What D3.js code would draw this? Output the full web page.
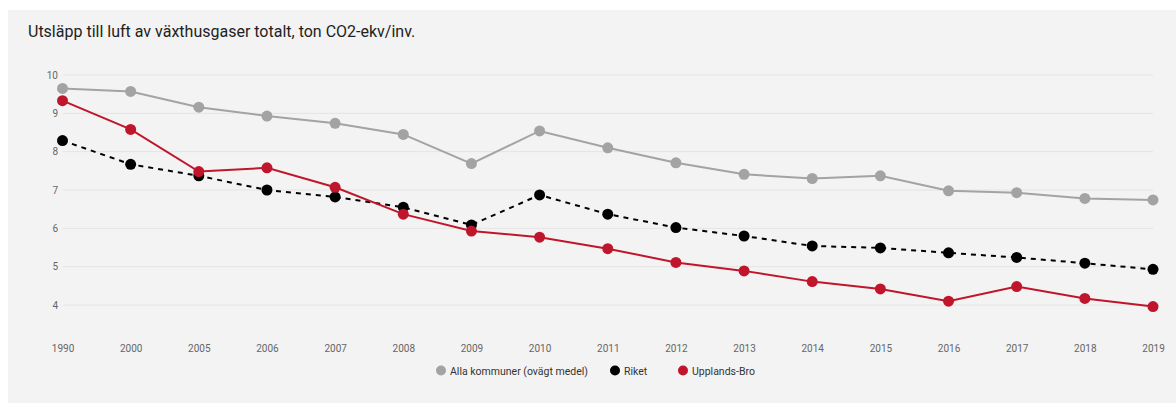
<!DOCTYPE html>
<html><head><meta charset="utf-8">
<script src="https://cdn.jsdelivr.net/npm/d3@7"></script>
<style>
html,body{margin:0;padding:0;background:#fff;}
svg{display:block;font-family:Roboto,"Noto Sans",sans-serif;}
</style></head>
<body>
<svg id="chart" width="1176" height="403"></svg>
<script>
const years = ["1990","2000","2005","2006","2007","2008","2009","2010","2011","2012","2013","2014","2015","2016","2017","2018","2019"];
const allaKommuner = [9.65,9.57,9.16,8.93,8.74,8.45,7.69,8.54,8.10,7.71,7.41,7.30,7.37,6.98,6.93,6.78,6.74];
const riket = [8.29,7.67,7.37,7.00,6.82,6.55,6.09,6.87,6.37,6.02,5.80,5.54,5.49,5.36,5.24,5.09,4.93];
const upplandsBro = [9.33,8.58,7.48,7.58,7.07,6.37,5.93,5.77,5.47,5.11,4.89,4.61,4.42,4.10,4.48,4.17,3.96];
const yTicks = [4,5,6,7,8,9,10];
const seriesNames = ["Alla kommuner (ovägt medel)","Riket","Upplands-Bro"];
const title = "Utsläpp till luft av växthusgaser totalt, ton CO2-ekv/inv.";

const series = [
  {name: seriesNames[0], values: allaKommuner, color: "#a3a3a3", dash: null},
  {name: seriesNames[1], values: riket, color: "#000000", dash: "5,5"},
  {name: seriesNames[2], values: upplandsBro, color: "#c0162b", dash: null}
];

const svg = d3.select("#chart");
svg.append("rect").attr("x", 8).attr("y", 10).attr("width", 1168).attr("height", 393).attr("fill", "#f3f3f3");

svg.append("text").attr("x", 28).attr("y", 37).attr("font-size", 16).attr("fill", "#222").text(title);

const x = d3.scalePoint().domain(years).range([62.5, 1153]);
const y = d3.scaleLinear().domain([4, 10]).range([305, 75]);

const grid = svg.append("g");
grid.selectAll("line").data(yTicks).join("line")
  .attr("x1", 63).attr("x2", 1153)
  .attr("y1", d => y(d)).attr("y2", d => y(d))
  .attr("stroke", "#e4e4e4").attr("stroke-width", 1);

const yAxis = svg.append("g").attr("transform", "translate(58,0)")
  .call(d3.axisLeft(y).tickValues(yTicks).tickFormat(d3.format("d")).tickSize(0).tickPadding(0));
yAxis.select(".domain").remove();
yAxis.selectAll("text").attr("font-size", 10).attr("fill", "#666").attr("font-family", "Roboto, sans-serif");

const xAxis = svg.append("g").attr("transform", "translate(0,345)")
  .call(d3.axisBottom(x).tickSize(0).tickPadding(0));
xAxis.select(".domain").remove();
xAxis.selectAll("text").attr("font-size", 10).attr("fill", "#666").attr("font-family", "Roboto, sans-serif");

const line = d3.line().x((d, i) => x(years[i])).y(d => y(d));

series.forEach(s => {
  const g = svg.append("g");
  g.append("path").datum(s.values).attr("d", line)
    .attr("fill", "none").attr("stroke", s.color).attr("stroke-width", 2)
    .attr("stroke-dasharray", s.dash);
  g.selectAll("circle").data(s.values).join("circle")
    .attr("cx", (d, i) => x(years[i])).attr("cy", d => y(d)).attr("r", 5.5)
    .attr("fill", s.color);
});

const legendX = [441, 615, 683];
const legend = svg.append("g");
series.forEach((s, i) => {
  legend.append("circle").attr("cx", legendX[i]).attr("cy", 370.5).attr("r", 5).attr("fill", s.color);
  legend.append("text").attr("x", legendX[i] + 9).attr("y", 374.5).attr("font-size", 10.5).attr("fill", "#333").text(s.name);
});
</script>
</body></html>
